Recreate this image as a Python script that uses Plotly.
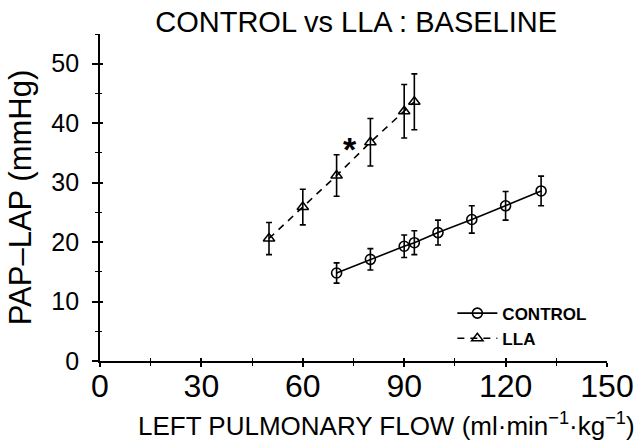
import plotly.graph_objects as go

ctrl_x = [70, 80, 90, 93, 100, 110, 120, 130.5]
ctrl_y = [14.8, 17.1, 19.3, 19.9, 21.6, 23.8, 26.1, 28.6]
ctrl_err = [1.7, 1.8, 1.9, 2.0, 2.1, 2.3, 2.4, 2.5]

lla_x = [50, 60, 70, 80, 90, 93]
lla_y = [20.6, 25.9, 31.2, 36.8, 42.0, 43.6]
lla_err = [2.7, 3.0, 3.5, 4.0, 4.5, 4.7]

x_ticks = [0, 30, 60, 90, 120, 150]
x_minor = [15, 45, 75, 105, 135]
y_ticks = [0, 10, 20, 30, 40, 50]
y_minor = [5, 15, 25, 35, 45, 55]

FONT = "Liberation Sans"

fig = go.Figure()
fig.add_trace(go.Scatter(
    x=ctrl_x, y=ctrl_y, name="CONTROL", mode="lines+markers",
    line=dict(color="black", width=1.6, dash="solid"),
    marker=dict(symbol="circle-open", size=10, color="black", line=dict(width=1.6)),
    error_y=dict(type="data", array=ctrl_err, color="black", thickness=1.6, width=3),
))
fig.add_trace(go.Scatter(
    x=lla_x, y=lla_y, name="LLA", mode="lines+markers",
    line=dict(color="black", width=1.6, dash="7px,6px"),
    marker=dict(symbol="triangle-up-open", size=10, color="black", line=dict(width=1.5)),
    error_y=dict(type="data", array=lla_err, color="black", thickness=1.6, width=3),
))
# invisible trace to activate overlay axes (inner half of crossing ticks)
fig.add_trace(go.Scatter(x=[None], y=[None], xaxis="x2", yaxis="y2",
                         showlegend=False, hoverinfo="skip"))

fig.add_annotation(x=74.0, y=35.6, text="<b>*</b>", showarrow=False,
                   font=dict(family=FONT, size=34, color="black"))

# x-axis title (offset to the right as in the reference)
fig.add_annotation(xref="paper", yref="paper", x=0.566, y=-0.195,
                   xanchor="center", yanchor="middle", showarrow=False,
                   text="LEFT PULMONARY FLOW (ml·min<sup>−1</sup>·kg<sup>−1</sup>)",
                   font=dict(family=FONT, size=26, color="black"))

fig.update_layout(
    width=636, height=446,
    margin=dict(l=100, r=29, t=34, b=85),
    paper_bgcolor="white", plot_bgcolor="white",
    font=dict(family=FONT, color="black"),
    title=dict(text="CONTROL vs LLA : BASELINE", x=0.56, xanchor="center",
               y=0.951, yanchor="middle", font=dict(size=29)),
    showlegend=True,
    legend=dict(x=0.695, y=0.20, xanchor="left", yanchor="top",
                bgcolor="rgba(0,0,0,0)", font=dict(size=17, weight="bold"),
                itemwidth=40, tracegroupgap=0),
    xaxis2=dict(overlaying="x", range=[0, 150], tickvals=x_ticks, showticklabels=False,
                ticks="inside", ticklen=3, tickwidth=1.5, tickcolor="black",
                showgrid=False, zeroline=False, showline=False, automargin=False,
                minor=dict(tickvals=x_minor, ticks="inside", ticklen=3, tickwidth=1.2, tickcolor="black")),
    yaxis2=dict(overlaying="y", range=[0, 55], tickvals=y_ticks, showticklabels=False,
                ticks="inside", ticklen=3, tickwidth=1.5, tickcolor="black",
                showgrid=False, zeroline=False, showline=False, automargin=False,
                minor=dict(tickvals=y_minor, ticks="inside", ticklen=2, tickwidth=1.2, tickcolor="black")),
)
fig.layout.xaxis.update(
    range=[0, 150], tickvals=x_ticks, ticktext=[str(v) for v in x_ticks],
    showgrid=False, zeroline=False, showline=True, linecolor="black", linewidth=1.8,
    ticks="outside", ticklen=4, tickwidth=1.5, tickcolor="black", automargin=False,
    ticklabelstandoff=-8,
    minor=dict(tickvals=x_minor, ticks="outside", ticklen=3, tickwidth=1.2, tickcolor="black"),
    tickfont=dict(size=32),
)
fig.layout.yaxis.update(
    range=[0, 55], tickvals=y_ticks, ticktext=[str(v) for v in y_ticks],
    showgrid=False, zeroline=False, showline=True, linecolor="black", linewidth=1.8,
    ticks="outside", ticklen=6, tickwidth=1.5, tickcolor="black", automargin=False,
    ticklabelstandoff=8,
    minor=dict(tickvals=y_minor, ticks="outside", ticklen=3, tickwidth=1.2, tickcolor="black"),
    tickfont=dict(size=25),
    title=dict(text="PAP–LAP (mmHg)", font=dict(size=31), standoff=10),
)

fig.write_html("out.html", config={"displayModeBar": False},
               post_script="document.body.style.margin='0';")
